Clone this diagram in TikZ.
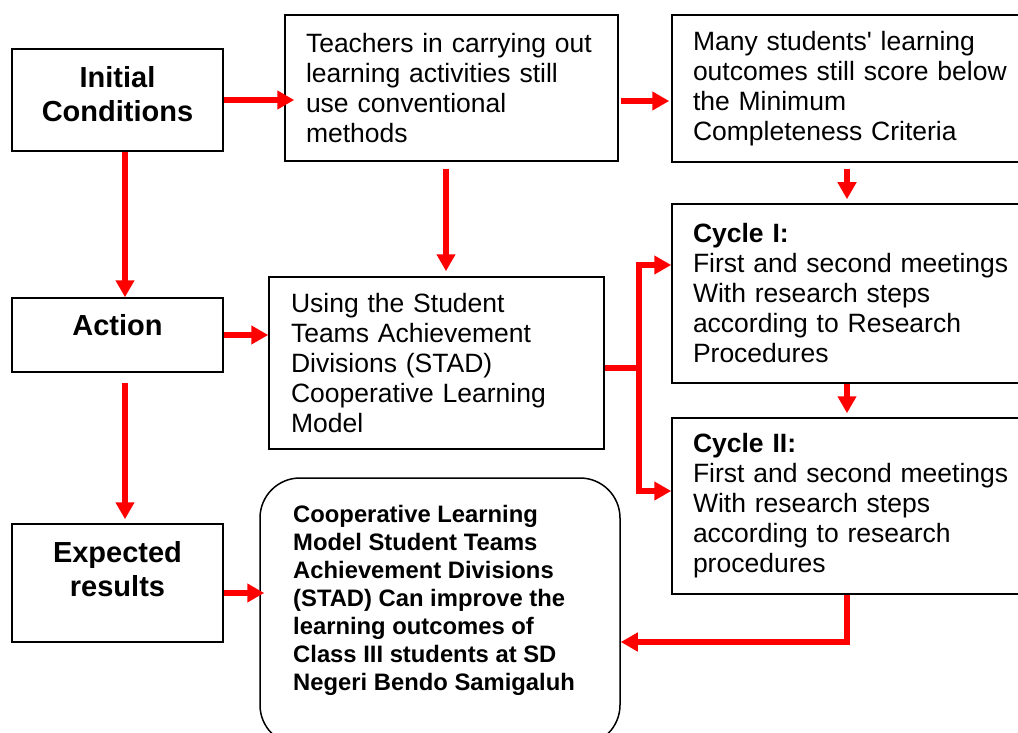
\documentclass[tikz,border=0pt]{standalone}
\usepackage{fontspec}
\setmainfont{Liberation Sans}[Ligatures = TeXOff]
\usetikzlibrary{arrows.meta}

\begin{document}
\begin{tikzpicture}[
  x = 1pt, y = -1pt,
  stage/.style = {
    shape = rectangle,
    draw = black,
    line width = 1.5pt,
    minimum width = 211pt,
    inner sep = 0pt,
  },
  stagetext/.style = {
    align = center,
    inner sep = 0pt,
    font = \fontsize{29}{34}\selectfont\bfseries,
  },
  textbox/.style = {
    shape = rectangle,
    draw = black,
    line width = 1.5pt,
    align = left,
    inner xsep = 21pt,
    inner ysep = 0pt,
    font = \fontsize{26.5}{30}\selectfont,
  },
  resultbox/.style = {
    shape = rectangle,
    draw = black,
    line width = 1.5pt,
    rounded corners = 40pt,
    minimum width = 360pt,
    minimum height = 267pt,
  },
  resulttext/.style = {
    align = left,
    inner sep = 0pt,
    font = \fontsize{23.8}{28}\selectfont\bfseries,
  }
]
  \useasboundingbox (0, 0) rectangle (1018, 733);
  \clip (0, 0) rectangle (1018, 733);

  \node[stage, minimum height = 102pt] (init) at (117.5, 100) {};
  \node[stage, minimum height = 74pt] (action) at (117.5, 335) {};
  \node[stage, minimum height = 118pt] (expect) at (117.5, 583) {};

  \node[stagetext, anchor = north] (init-t) at ([yshift = -18pt] init.north) {Initial\\Conditions};
  \node[stagetext, anchor = north] (action-t) at ([yshift = -17pt] action.north) {Action};
  \node[stagetext, anchor = north] (expect-t) at ([yshift = -18pt] expect.north) {Expected\\results};

  \node[textbox, text width = 291pt, minimum height = 146pt] (teach) at (451.5, 88)
    {Teachers in carrying out\\learning activities still\\use conventional\\methods};
  \node[textbox, text width = 330pt, minimum height = 147pt] (many) at (858, 88.5)
    {Many students' learning\\outcomes still score below\\the Minimum\\Completeness Criteria};
  \node[textbox, text width = 291pt, inner xsep = 22pt, minimum height = 172pt] (stad) at (436.5, 363)
    {Using the Student\\Teams Achievement\\Divisions (STAD)\\Cooperative Learning\\Model};
  \node[textbox, text width = 330pt, minimum height = 179pt] (cyc1) at (858, 293.5)
    {\textbf{Cycle I:}\\First and second meetings\\With research steps\\according to Research\\Procedures};
  \node[textbox, text width = 330pt, minimum height = 176pt] (cyc2) at (858, 506)
    {\textbf{Cycle II:}\\First and second meetings\\With research steps\\according to research\\procedures};

  \node[resultbox] (res) at (440, 611.5) {};
  \node[resulttext, anchor = north west] (res-t) at (293, 505)
    {Cooperative Learning\\Model Student Teams\\Achievement Divisions\\(STAD) Can improve the\\learning outcomes of\\Class III students at SD\\Negeri Bendo Samigaluh};

  \coordinate (fork) at (639, 368);

  \begin{scope}[
    every path/.style = {draw = red, line width = 6pt, -{Triangle[length = 17pt, width = 18pt]}}
  ]
    \draw[shorten > = -10pt] (init.east) -- (init.east -| teach.west);
    \draw[shorten < = 2pt, shorten > = 2pt] ([yshift = -13pt] teach.east) -- ([yshift = -13pt] teach.east -| many.west);
    \draw ([xshift = 7.5pt] init.south) -- ([xshift = 7.5pt] init.south |- action.north);
    \draw[shorten < = 7pt, shorten > = 5pt] ([xshift = -5.5pt] teach.south) -- ([xshift = -5.5pt] teach.south |- stad.north);
    \draw[shorten < = 6pt, shorten > = 4pt] ([xshift = -11pt] many.south) -- ([xshift = -11pt] many.south |- cyc1.north);
    \draw (action.east) -- (action.east -| stad.west);
    \draw[-] ([yshift = -5pt] stad.east) -- (fork);
    \draw (fork) |- ([yshift = 28.5pt] cyc1.west);
    \draw (fork) |- ([yshift = 15pt] cyc2.west);
    \draw[shorten > = 4pt] ([xshift = -11pt] cyc1.south) -- ([xshift = -11pt] cyc1.south |- cyc2.north);
    \draw[shorten < = 10pt, shorten > = 4pt] ([xshift = 7.5pt] action.south) -- ([xshift = 7.5pt] action.south |- expect.north);
    \draw[shorten > = -5pt] ([yshift = -10pt] expect.east) -- ([yshift = -10pt] expect.east -| res.west);
    \draw ([xshift = -11pt] cyc2.south) |- ([yshift = -30.5pt] res.east);
  \end{scope}
\end{tikzpicture}
\end{document}
